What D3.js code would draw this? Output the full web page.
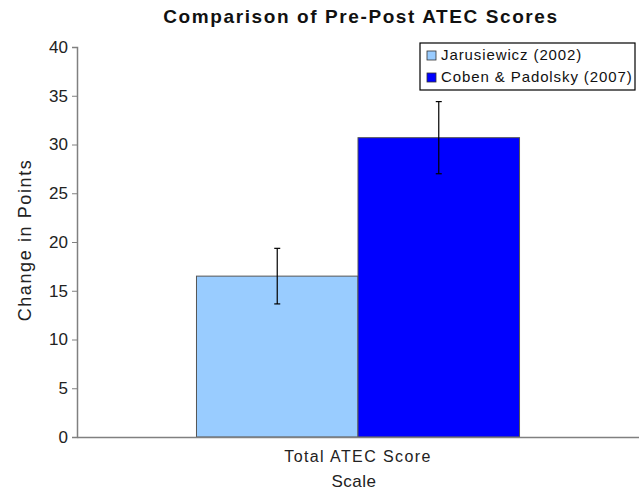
<!DOCTYPE html>
<html>
<head>
<meta charset="utf-8">
<script src="https://cdn.jsdelivr.net/npm/d3@7"></script>
<style>
  body { margin: 0; background: #fff; }
  svg { font-family: Arial, "Liberation Sans", sans-serif; }
</style>
</head>
<body>
<svg id="chart" width="639" height="492"></svg>
<script>
// data
const categories = ["Total ATEC Score"]
const series = ["Jarusiewicz (2002)", "Coben & Padolsky (2007)"]
const values = [16.5, 30.7]
const errors = [2.85, 3.7]
const yTicks = [0, 5, 10, 15, 20, 25, 30, 35, 40]
const colors = ["#99ccff", "#0000ff"]

const svg = d3.select("#chart")
const margin = { top: 47, right: 0, bottom: 55, left: 77 }
const width = 639 - margin.left - margin.right
const height = 492 - margin.top - margin.bottom

const g = svg.append("g").attr("transform", `translate(${margin.left},${margin.top})`)

const y = d3.scaleLinear().domain([0, 40]).range([height, 0])
const x0 = d3.scaleBand().domain(categories).range([0, width]).paddingInner(0.27).paddingOuter(0.27)
const x1 = d3.scaleBand().domain(series).range([0, x0.bandwidth()])

// title
svg.append("text")
  .attr("x", 361).attr("y", 23)
  .attr("text-anchor", "middle")
  .style("font-size", "19px").style("font-weight", "bold")
  .style("letter-spacing", "1.6px")
  .attr("fill", "#111")
  .text("Comparison of Pre-Post ATEC Scores")

// bars
const cat = g.selectAll("g.cat").data(categories).enter().append("g")
  .attr("class", "cat")
  .attr("transform", d => `translate(${x0(d)},0)`)

cat.selectAll("rect").data(series).enter().append("rect")
  .attr("x", d => x1(d))
  .attr("y", (d, i) => y(values[i]))
  .attr("width", x1.bandwidth())
  .attr("height", (d, i) => height - y(values[i]))
  .attr("fill", (d, i) => colors[i])
  .attr("stroke", "#555")
  .attr("stroke-width", 1)

// error bars
series.forEach((s, i) => {
  const cx = x0(categories[0]) + x1(s) + x1.bandwidth() / 2
  const top = y(values[i] + errors[i]), bot = y(values[i] - errors[i])
  const eg = g.append("g").attr("stroke", "#000").attr("stroke-width", 1.2)
  eg.append("line").attr("x1", cx).attr("x2", cx).attr("y1", top).attr("y2", bot)
  eg.append("line").attr("x1", cx - 3).attr("x2", cx + 3).attr("y1", top).attr("y2", top)
  eg.append("line").attr("x1", cx - 3).attr("x2", cx + 3).attr("y1", bot).attr("y2", bot)
})

// y axis
const yAxis = g.append("g")
  .call(d3.axisLeft(y).tickValues(yTicks).tickSize(5).tickPadding(4))
yAxis.select(".domain").attr("stroke", "#808080").attr("stroke-width", 1.5)
yAxis.selectAll(".tick line").attr("stroke", "#808080")
yAxis.selectAll(".tick text").style("font-size", "17px").attr("fill", "#222").attr("font-family", "Arial, 'Liberation Sans', sans-serif")

// x axis
const xAxis = g.append("g").attr("transform", `translate(0,${height})`)
  .call(d3.axisBottom(x0).tickSize(0).tickPadding(14))
xAxis.select(".domain").attr("stroke", "#808080").attr("stroke-width", 1.5)
xAxis.selectAll(".tick text").style("font-size", "16px").style("letter-spacing", "1.4px")
  .attr("fill", "#222").attr("font-family", "Arial, 'Liberation Sans', sans-serif")

// axis titles
svg.append("text")
  .attr("transform", "translate(31,240) rotate(-90)")
  .attr("text-anchor", "middle")
  .style("font-size", "18px").style("letter-spacing", "1.6px").attr("fill", "#222")
  .text("Change in Points")

svg.append("text")
  .attr("x", 354).attr("y", 487)
  .attr("text-anchor", "middle")
  .style("font-size", "17px").style("letter-spacing", "0.5px").attr("fill", "#222")
  .text("Scale")

// legend
const legend = svg.append("g").attr("transform", "translate(420,43)")
legend.append("rect")
  .attr("width", 215).attr("height", 47)
  .attr("fill", "#fff").attr("stroke", "#000").attr("stroke-width", 1.2)
series.forEach((s, i) => {
  const row = legend.append("g").attr("transform", `translate(7,${17 + i * 22})`)
  row.append("rect").attr("x", 0).attr("y", -9).attr("width", 9).attr("height", 9)
    .attr("fill", colors[i]).attr("stroke", "#333").attr("stroke-width", 0.8)
  row.append("text").attr("x", 14).attr("y", 0)
    .style("font-size", "15px").style("letter-spacing", "0.9px").attr("fill", "#111")
    .text(s)
})
</script>
</body>
</html>
